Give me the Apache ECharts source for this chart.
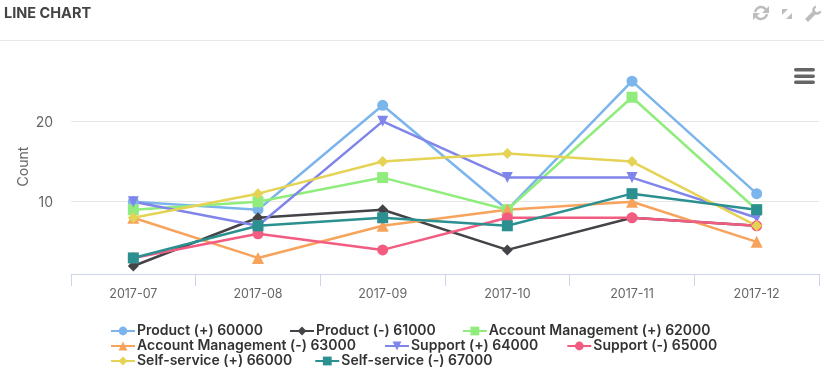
<!DOCTYPE html>
<html>
<head>
<meta charset="utf-8">
<title>Line chart</title>
<script src="https://cdn.jsdelivr.net/npm/echarts@6/dist/echarts.min.js"></script>
<style>
html, body { margin: 0; padding: 0; background: #fff; }
#main { width: 824px; height: 374px; }
</style>
</head>
<body>
<div id="main"></div>
<script>
var months = ['2017-07', '2017-08', '2017-09', '2017-10', '2017-11', '2017-12'];
var yTicks = [10, 20];

var product_plus = [10, 9, 22, 9, 25, 11];
var product_minus = [2, 8, 9, 4, 8, 7];
var account_plus = [9, 10, 13, 9, 23, 9];
var account_minus = [8, 3, 7, 9, 10, 5];
var support_plus = [10, 7, 20, 13, 13, 8];
var support_minus = [3, 6, 4, 8, 8, 7];
var self_plus = [8, 11, 15, 16, 15, 7];
var self_minus = [3, 7, 8, 7, 11, 9];

var legendRow1 = ['Product (+) 60000', 'Product (-) 61000', 'Account Management (+) 62000'];
var legendRow2 = ['Account Management (-) 63000', 'Support (+) 64000', 'Support (-) 65000'];
var legendRow3 = ['Self-service (+) 66000', 'Self-service (-) 67000'];

var triangleDown = 'path://M0,0L10,0L5,10Z';
var font = 'Inter, sans-serif';
var iconGrey = '#bdbdbd';

function line(name, data, color, symbol, size) {
    return {
        name: name,
        type: 'line',
        data: data,
        symbol: symbol,
        symbolSize: size,
        showSymbol: true,
        lineStyle: { color: color, width: 2.5 },
        itemStyle: { color: color },
        animation: false
    };
}

function legendRow(names, top, gap) {
    return {
        data: names,
        left: 110,
        top: top,
        itemWidth: 24,
        itemHeight: 11,
        itemGap: gap,
        padding: 0,
        textStyle: { color: '#333', fontSize: 14, fontWeight: 600, fontFamily: font, padding: [0, 0, 0, -3] }
    };
}

function poly(points) {
    return { type: 'polygon', shape: { points: points }, style: { fill: iconGrey }, silent: true };
}

var myChart = echarts.init(document.getElementById('main'));

var option = {
    animation: false,
    title: {
        text: 'LINE CHART',
        left: 4,
        top: 6,
        padding: 0,
        textStyle: { color: '#444', fontSize: 14.5, fontWeight: 'bold', fontFamily: font }
    },
    grid: { left: 71, right: 5, top: 41, bottom: 100 },
    legend: [legendRow(legendRow1, 324, 26), legendRow(legendRow2, 339, 28), legendRow(legendRow3, 354, 22)],
    xAxis: {
        type: 'category',
        data: months,
        axisLine: { lineStyle: { color: '#ccd6eb' } },
        axisTick: { show: true, length: 12, lineStyle: { color: '#ccd6eb' } },
        axisLabel: { color: '#666', fontSize: 12.5, margin: 14, fontFamily: font }
    },
    yAxis: {
        type: 'value',
        min: 1,
        max: 30,
        name: 'Count',
        nameLocation: 'middle',
        nameGap: 40,
        nameMoveOverlap: false,
        nameTextStyle: { color: '#666', fontSize: 14, fontFamily: font, padding: [0, 18, 0, 0] },
        axisLine: { show: false },
        axisTick: { show: false, customValues: yTicks },
        axisLabel: { color: '#666', fontSize: 14, margin: 18, customValues: yTicks, fontFamily: font, verticalAlign: 'top', lineHeight: 3 },
        splitLine: { lineStyle: { color: '#e6e6e6' } }
    },
    series: [
        line(legendRow1[0], product_plus, '#7cb5ec', 'circle', 11),
        line(legendRow1[1], product_minus, '#434348', 'diamond', 11),
        line(legendRow1[2], account_plus, '#90ed7d', 'rect', 11),
        line(legendRow2[0], account_minus, '#f7a35c', 'triangle', 12),
        line(legendRow2[1], support_plus, '#8085e9', triangleDown, 11),
        line(legendRow2[2], support_minus, '#f15c80', 'circle', 11),
        line(legendRow3[0], self_plus, '#e4d354', 'diamond', 11),
        line(legendRow3[1], self_minus, '#2b908f', 'rect', 11)
    ],
    graphic: [
        // panel header rule
        { type: 'rect', shape: { x: 0, y: 40, width: 824, height: 1 }, style: { fill: '#e8e8e8' }, silent: true },
        // refresh icon
        { type: 'arc', shape: { cx: 761, cy: 13, r: 6, startAngle: Math.PI * 1.05, endAngle: Math.PI * 1.8 }, style: { stroke: iconGrey, lineWidth: 2.5, fill: 'none' }, silent: true },
        { type: 'arc', shape: { cx: 761, cy: 13, r: 6, startAngle: Math.PI * 0.05, endAngle: Math.PI * 0.8 }, style: { stroke: iconGrey, lineWidth: 2.5, fill: 'none' }, silent: true },
        poly([[769, 6], [769, 13], [762, 13]]),
        poly([[753, 20], [753, 13], [760, 13]]),
        // expand icon
        poly([[782, 9], [788, 9], [782, 15]]),
        poly([[792, 19], [786, 19], [792, 13]]),
        // wrench icon
        poly([[805, 19], [814, 10], [817, 13], [808, 22]]),
        { type: 'arc', shape: { cx: 817, cy: 10, r: 3.5, startAngle: Math.PI * 0.1, endAngle: Math.PI * 1.4 }, style: { stroke: iconGrey, lineWidth: 2.5, fill: 'none' }, silent: true },
        // context menu
        { type: 'rect', shape: { x: 794, y: 68, width: 21, height: 3.4, r: 1.7 }, style: { fill: '#666' }, silent: true },
        { type: 'rect', shape: { x: 794, y: 74.5, width: 21, height: 3.4, r: 1.7 }, style: { fill: '#666' }, silent: true },
        { type: 'rect', shape: { x: 794, y: 80.5, width: 21, height: 3.4, r: 1.7 }, style: { fill: '#666' }, silent: true }
    ]
};

myChart.setOption(option);
</script>
</body>
</html>
